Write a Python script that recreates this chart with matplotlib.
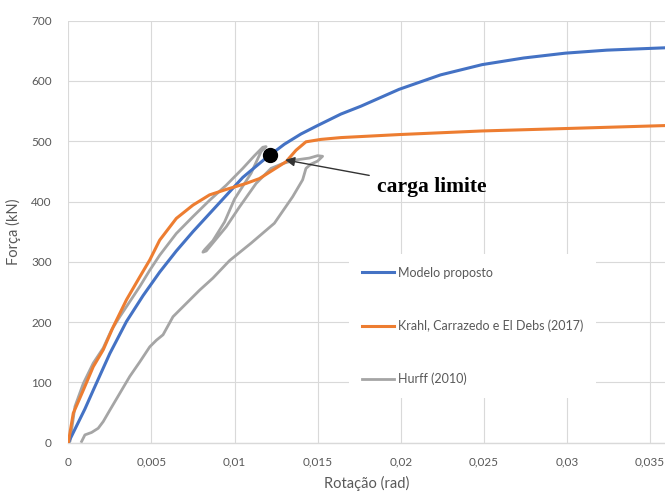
import matplotlib
matplotlib.use("Agg")
import matplotlib.pyplot as plt

# rotation (rad) vs force (kN)
modelo_x = [0, 0.0005, 0.001, 0.0015, 0.0025, 0.0035, 0.0045, 0.0055, 0.0065, 0.0075,
            0.0085, 0.0095, 0.0105, 0.0118, 0.013, 0.014, 0.015, 0.0164, 0.0176, 0.0199,
            0.0224, 0.0249, 0.0274, 0.0299, 0.0324, 0.036]
modelo_y = [0, 28, 56, 87, 148, 201, 244, 283, 318, 350,
            380, 410, 440, 470, 495, 512, 526, 545, 558, 586,
            610, 627, 638, 646, 651, 655]

krahl_x = [0, 0.0003, 0.0009, 0.0015, 0.0021, 0.0027, 0.0035, 0.0043, 0.0049, 0.0055,
           0.0065, 0.0075, 0.0085, 0.0095, 0.0107, 0.0115, 0.0123, 0.0131, 0.0137, 0.0143,
           0.0152, 0.0164, 0.0199, 0.0249, 0.0299, 0.036]
krahl_y = [0, 49, 87, 126, 154, 192, 237, 275, 303, 336,
           372, 394, 411, 420, 430, 438, 452, 466, 485, 499,
           503, 506, 511, 517, 521, 526]

hurff_x = [0, 0.0001, 0.0004, 0.0009, 0.0015, 0.0021, 0.0026, 0.0031, 0.0037, 0.0043,
           0.0049, 0.0055, 0.0065, 0.0075, 0.0085, 0.0095, 0.0105, 0.0112, 0.0117, 0.0119,
           0.0116, 0.011, 0.0100, 0.0094, 0.0087, 0.0082, 0.0081,
           0.0083, 0.0086, 0.0095, 0.0103, 0.0113, 0.0122, 0.0129, 0.0137, 0.0145, 0.0150,
           0.0153, 0.0150, 0.0146,
           0.0143, 0.0141, 0.0135, 0.0124, 0.0110, 0.0097, 0.0087, 0.0079, 0.0071, 0.0063,
           0.0057, 0.0053, 0.0049, 0.0043, 0.0037, 0.0031, 0.0025, 0.0021, 0.0018, 0.0014,
           0.0010, 0.0008]
hurff_y = [0, 2, 60, 98, 132, 157, 187, 209, 234, 259,
           286, 311, 347, 375, 402, 427, 455, 476, 490, 491,
           483, 447, 404, 366, 335, 320, 316,
           318, 328, 358, 391, 430, 455, 463, 469, 472, 476,
           475, 467, 462,
           455, 436, 408, 364, 331, 302, 273, 253, 231, 209,
           179, 170, 159, 134, 110, 82, 54, 35, 24, 17,
           13, 2]

carga_x, carga_y = 0.01215, 477
seta_x, seta_y = 0.01305, 469

x_ticks = [0, 0.005, 0.01, 0.015, 0.02, 0.025, 0.03, 0.035]
x_labels = ["0", "0,005", "0,01", "0,015", "0,02", "0,025", "0,03", "0,035"]
y_ticks = [0, 100, 200, 300, 400, 500, 600, 700]

BLUE, ORANGE, GRAY = "#4472c4", "#ed7d31", "#a5a5a5"
TXT, GRID = "#595959", "#d9d9d9"

plt.rcParams["font.family"] = ["Lato", "DejaVu Sans"]

fig = plt.figure(figsize=(6.65, 4.94), dpi=100)
ax = fig.add_axes([0.1027, 0.1038, 0.8973, 0.8545])

ax.plot(modelo_x, modelo_y, color=BLUE, lw=2.2, label="Modelo proposto", zorder=3)
ax.plot(krahl_x, krahl_y, color=ORANGE, lw=2.2, label="Krahl, Carrazedo e El Debs (2017)", zorder=3)
ax.plot(hurff_x, hurff_y, color=GRAY, lw=2.0, label="Hurff (2010)", zorder=2)

ax.plot([carga_x], [carga_y], "o", color="black", ms=10, zorder=5)
ax.annotate("carga limite", xy=(seta_x, seta_y), xytext=(0.0186, 424),
            ha="left", va="center", fontsize=15.5, fontweight="bold",
            family=["Liberation Serif", "DejaVu Serif"], color="black",
            arrowprops=dict(arrowstyle="-|>", color="#333333", lw=1.0,
                            mutation_scale=14, shrinkA=4, shrinkB=0),
            zorder=6)

ax.set_xlim(0, 0.0359)
ax.set_ylim(0, 700)
ax.set_xticks(x_ticks)
ax.set_xticklabels(x_labels)
ax.set_yticks(y_ticks)
ax.tick_params(length=0, labelsize=8.5, labelcolor=TXT, pad=10)
ax.tick_params(axis="y", pad=12)
ax.grid(True, color=GRID, lw=0.8)
ax.set_axisbelow(True)
for s in ["top", "right", "left"]:
    ax.spines[s].set_visible(False)
ax.spines["bottom"].set_color(GRID)
ax.spines["bottom"].set_linewidth(1.0)

ax.set_xlabel("Rotação (rad)", fontsize=10.5, color=TXT, labelpad=6)
ax.set_ylabel("Força (kN)", fontsize=10.5, color=TXT, labelpad=7)

leg = ax.legend(loc="upper left", bbox_to_anchor=(0.460, 0.461), fontsize=9,
                frameon=True, fancybox=False, handlelength=2.6, handletextpad=0.3,
                labelspacing=3.25, borderpad=1.0)
leg.get_frame().set_facecolor("white")
leg.get_frame().set_edgecolor("none")
leg.get_frame().set_alpha(1.0)
for t in leg.get_texts():
    t.set_color(TXT)

fig.savefig("out.png", dpi=100)
